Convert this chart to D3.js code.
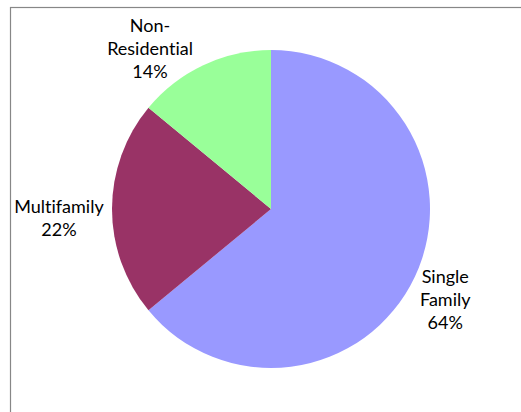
<!DOCTYPE html>
<html lang="en">
<head>
  <meta charset="UTF-8">
  <title>Housing Mix Pie</title>
  <script src="https://d3js.org/d3.v7.min.js"></script>
  <style>
    body { margin: 0; background: #fff; }
    .label { font-family: Lato, "Open Sans", sans-serif; font-size: 18px; fill: #000; font-variant-ligatures: none; }
  </style>
</head>
<body>
  <div id="chart"></div>
  <script>
    const width = 521, height = 412;

    // chart data
    const categories = ["Single Family", "Multifamily", "Non-Residential"];
    const shares = [64, 22, 14];
    const colors = ["#9999ff", "#993366", "#99ff99"];

    const cx = 271, cy = 209, radius = 159;
    const lineHeight = 23;
    const labelGap = 8;
    // best-fit nudges (degrees), like Excel moving labels off the frame
    const angleNudge = { "Non-Residential": -10, "Multifamily": -1.5 };

    const data = categories.map((c, i) => ({ name: c, value: shares[i], color: colors[i] }));

    const svg = d3.select("#chart")
      .append("svg")
      .attr("width", width)
      .attr("height", height);

    // chart area frame (clipped by the window on right/bottom)
    svg.append("rect")
      .attr("x", 10.5)
      .attr("y", 7.5)
      .attr("width", width + 20)
      .attr("height", height + 20)
      .attr("fill", "none")
      .attr("stroke", "#878787")
      .attr("stroke-width", 1.2);

    const pie = d3.pie().sort(null).value(d => d.value);
    const arc = d3.arc().innerRadius(0).outerRadius(radius);
    const arcs = pie(data);

    const g = svg.append("g").attr("transform", `translate(${cx},${cy})`);

    g.selectAll("path")
      .data(arcs)
      .enter().append("path")
      .attr("d", arc)
      .attr("fill", d => d.data.color);

    const labels = g.selectAll("text")
      .data(arcs)
      .enter().append("text")
      .attr("class", "label")
      .attr("text-anchor", "middle");

    labels.each(function (d) {
      const lines = d.data.name.split(/(?<=-)|\s/);
      lines.push(d.data.value + "%");
      const t = d3.select(this);
      lines.forEach(l => t.append("tspan").attr("x", 0).text(l));
      d.lines = lines.length;
    });

    labels.each(function (d) {
      const t = d3.select(this);
      const w = this.getBBox().width;
      const hh = d.lines * lineHeight / 2;
      const a = (d.startAngle + d.endAngle) / 2 + (angleNudge[d.data.name] || 0) * Math.PI / 180;
      const r = radius + labelGap;
      const x = r * Math.sin(a) + (w / 2) * Math.sin(a);
      const y = -r * Math.cos(a) - hh * Math.cos(a);
      t.selectAll("tspan")
        .attr("x", x)
        .attr("y", (p, i) => y - (d.lines - 1) / 2 * lineHeight + i * lineHeight + 11);
    });
  </script>
</body>
</html>
